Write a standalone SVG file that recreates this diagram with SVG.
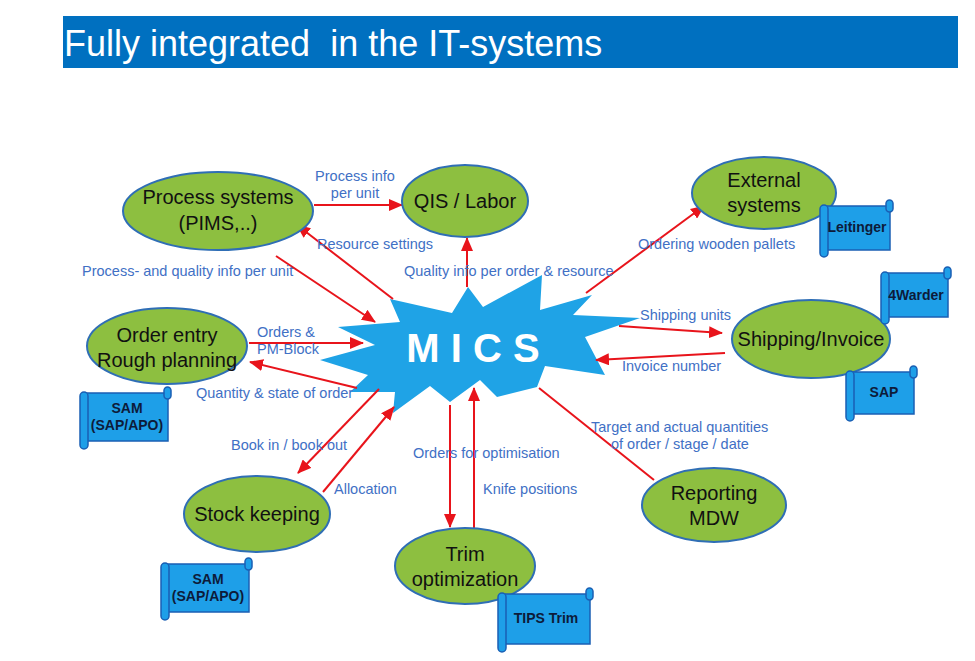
<svg xmlns="http://www.w3.org/2000/svg" width="975" height="661" viewBox="0 0 975 661">
<defs>
<style>
.node{fill:#8DBF40;stroke:#2F6EB5;stroke-width:2}
.nt{font-family:"Liberation Sans",Arial,sans-serif;font-size:20px;fill:#111;text-anchor:middle}
.lb{font-family:"Liberation Sans",Arial,sans-serif;font-size:14.5px;fill:#4170C5}
.scr{fill:#1E9FE8;stroke:#1A5FB4;stroke-width:1.5}
.st{font-family:"Liberation Sans",Arial,sans-serif;font-size:14px;font-weight:bold;fill:#0D1B3A;text-anchor:middle}
.c{stroke:#E8141B;stroke-width:2;fill:none}
.a{marker-end:url(#ah)}
</style>
<marker id="ah" markerUnits="userSpaceOnUse" markerWidth="14" markerHeight="12" refX="13" refY="6" orient="auto" viewBox="0 0 14 12">
<path d="M0,0 L14,6 L0,12 z" fill="#E8141B"/>
</marker>
</defs>
<rect x="0" y="0" width="975" height="661" fill="#fff"/>
<g id="title">
<rect x="63" y="16" width="895" height="52" fill="#0070C0"/>
<text x="64" y="56" xml:space="preserve" style="white-space:pre" font-family="'Liberation Sans',Arial,sans-serif" font-size="36" fill="#fff">Fully integrated  in the IT-systems</text>
</g>
<g id="mics">
<polygon points="390,299 452,313 468,287 483,307 542,275 540,310 592,295 573,315 640,318 585,337 605,375 545,366 537,387 497,397 480,380 450,402 430,386 393,413 395,392 350,392 368,375 320,360 375,345 338,327 400,322" fill="#1FA3E6"/>
<text x="473" y="362" font-family="'Liberation Sans',Arial,sans-serif" font-size="40" font-weight="bold" fill="#fff" text-anchor="middle">M I C S</text>
</g>
<g id="connectors">
<path class="c a" d="M314,205 L402,205"/>
<path class="c a" d="M393,299 L297,225"/>
<path class="c a" d="M276,256 L375,322"/>
<path class="c a" d="M467,287 L467,238"/>
<path class="c a" d="M586,293 L704,206"/>
<path class="c a" d="M619,326 L722,333"/>
<path class="c a" d="M725,353 L596,360"/>
<path class="c a" d="M249,343 L363,343"/>
<path class="c a" d="M357,388 L250,362"/>
<path class="c a" d="M379,389 L298,473"/>
<path class="c a" d="M323,492 L394,407"/>
<path class="c a" d="M450,405 L450,527"/>
<path class="c a" d="M474,528 L474,388"/>
<path class="c" d="M539,388 L654,480"/>
</g>
<g id="labels">
<text class="lb" x="355" y="181" text-anchor="middle">Process info</text>
<text class="lb" x="355" y="198" text-anchor="middle">per unit</text>
<text class="lb" x="317" y="249">Resource settings</text>
<text class="lb" x="82" y="276">Process- and quality info per unit</text>
<text class="lb" x="404" y="276">Quality info per order &amp; resource</text>
<text class="lb" x="638" y="249">Ordering wooden pallets</text>
<text class="lb" x="257" y="337">Orders &amp;</text>
<text class="lb" x="257" y="354">PM-Block</text>
<text class="lb" x="196" y="398">Quantity &amp; state of order</text>
<text class="lb" x="640" y="320">Shipping units</text>
<text class="lb" x="622" y="371">Invoice number</text>
<text class="lb" x="231" y="450">Book in / book out</text>
<text class="lb" x="334" y="494">Allocation</text>
<text class="lb" x="413" y="458">Orders for optimisation</text>
<text class="lb" x="483" y="494">Knife positions</text>
<text class="lb" x="591" y="432">Target and actual quantities</text>
<text class="lb" x="611" y="449">of order / stage / date</text>
</g>
<g id="process-systems">
<ellipse class="node" cx="218" cy="211" rx="95" ry="39"/>
<text class="nt" x="218" y="204">Process systems</text>
<text class="nt" x="218" y="230">(PIMS,..)</text>
</g>
<g id="qis-labor">
<ellipse class="node" cx="465" cy="201" rx="63" ry="36"/>
<text class="nt" x="465" y="208">QIS / Labor</text>
</g>
<g id="external-systems">
<ellipse class="node" cx="764" cy="193" rx="72" ry="36"/>
<text class="nt" x="764" y="187">External</text>
<text class="nt" x="764" y="212">systems</text>
</g>
<g id="order-entry">
<ellipse class="node" cx="167" cy="346" rx="80" ry="38"/>
<text class="nt" x="167" y="342">Order entry</text>
<text class="nt" x="167" y="367">Rough planning</text>
</g>
<g id="shipping-invoice">
<ellipse class="node" cx="811" cy="339" rx="79" ry="39"/>
<text class="nt" x="811" y="346">Shipping/Invoice</text>
</g>
<g id="stock-keeping">
<ellipse class="node" cx="257" cy="514" rx="73" ry="38"/>
<text class="nt" x="257" y="521">Stock keeping</text>
</g>
<g id="trim-optimization">
<ellipse class="node" cx="465" cy="566" rx="70" ry="38"/>
<text class="nt" x="465" y="561">Trim</text>
<text class="nt" x="465" y="586">optimization</text>
</g>
<g id="reporting-mdw">
<ellipse class="node" cx="714" cy="505" rx="72" ry="37"/>
<text class="nt" x="714" y="500">Reporting</text>
<text class="nt" x="714" y="525">MDW</text>
</g>
<g id="leitinger">
<rect class="scr" x="824" y="206" width="66" height="44"/>
<rect class="scr" x="886" y="200" width="7" height="12" rx="3.5"/>
<rect class="scr" x="820" y="205" width="8" height="52" rx="4"/>
<text class="st" x="857" y="232">Leitinger</text>
</g>
<g id="4warder">
<rect class="scr" x="885" y="273" width="63" height="44"/>
<rect class="scr" x="944" y="267" width="7" height="12" rx="3.5"/>
<rect class="scr" x="881" y="272" width="8" height="52" rx="4"/>
<text class="st" x="916" y="300">4Warder</text>
</g>
<g id="sap">
<rect class="scr" x="850" y="372" width="64" height="42"/>
<rect class="scr" x="910" y="366" width="7" height="12" rx="3.5"/>
<rect class="scr" x="846" y="371" width="8" height="50" rx="4"/>
<text class="st" x="884" y="397">SAP</text>
</g>
<g id="sam-1">
<rect class="scr" x="84" y="393" width="84" height="48"/>
<rect class="scr" x="164" y="387" width="7" height="12" rx="3.5"/>
<rect class="scr" x="80" y="392" width="8" height="57" rx="4"/>
<text class="st" x="127" y="413">SAM</text>
<text class="st" x="127" y="430">(SAP/APO)</text>
</g>
<g id="sam-2">
<rect class="scr" x="165" y="564" width="84" height="48"/>
<rect class="scr" x="245" y="558" width="7" height="12" rx="3.5"/>
<rect class="scr" x="161" y="563" width="8" height="57" rx="4"/>
<text class="st" x="208" y="584">SAM</text>
<text class="st" x="208" y="601">(SAP/APO)</text>
</g>
<g id="tips-trim">
<rect class="scr" x="502" y="594" width="88" height="50"/>
<rect class="scr" x="586" y="588" width="7" height="12" rx="3.5"/>
<rect class="scr" x="498" y="593" width="8" height="59" rx="4"/>
<text class="st" x="546" y="623">TIPS Trim</text>
</g>
</svg>
